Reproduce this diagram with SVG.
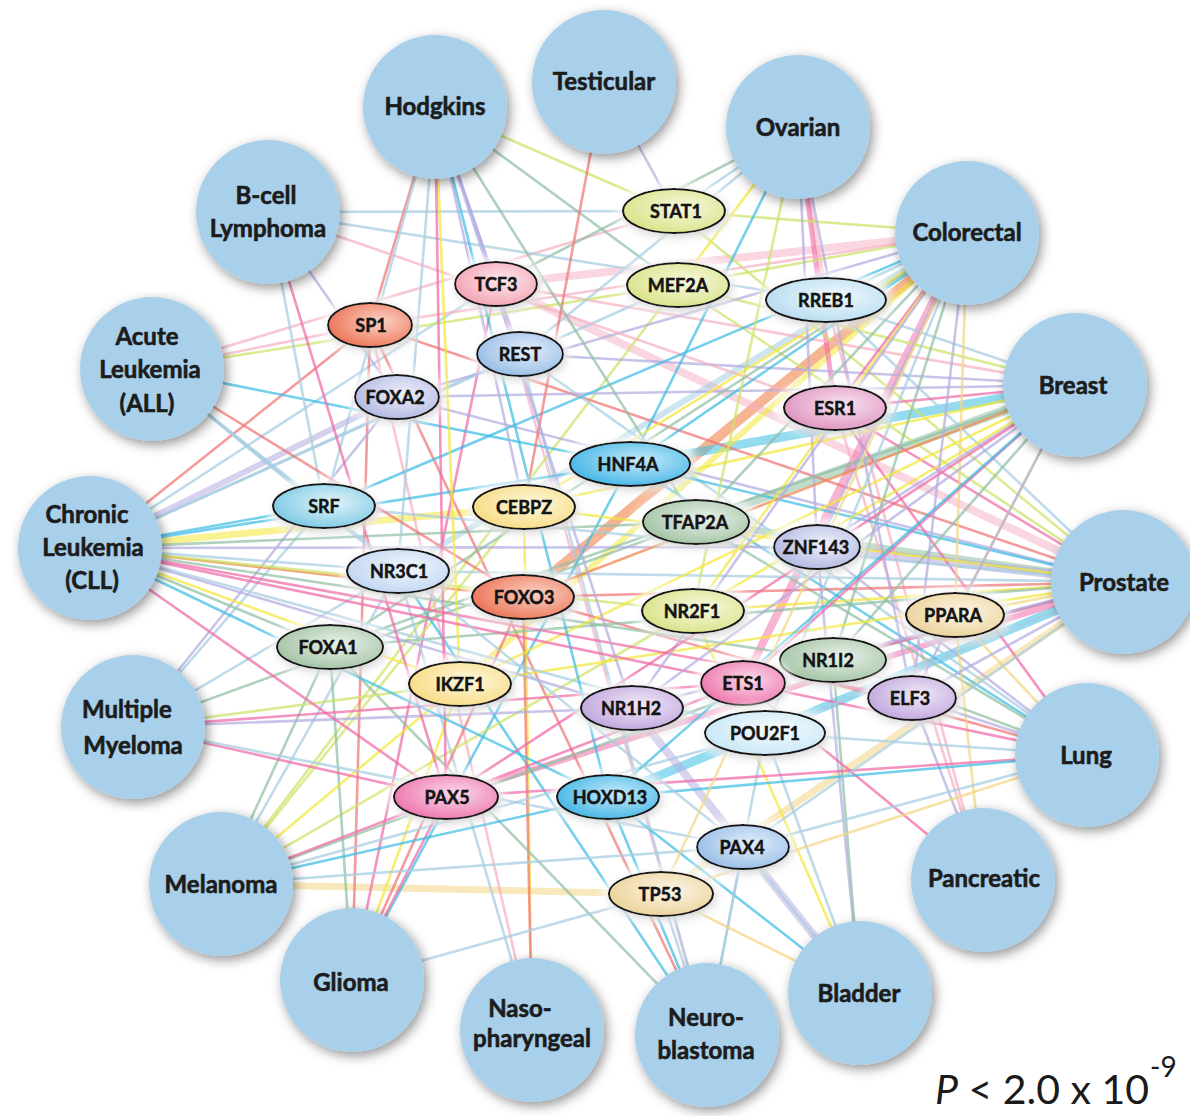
<svg xmlns="http://www.w3.org/2000/svg" width="1190" height="1116" viewBox="0 0 1190 1116">
<defs>
<style>
.cn line{stroke-width:2.6;stroke-linecap:round;stroke-opacity:0.72;fill:none}
.pk{stroke:#f06aa8}.rd{stroke:#f07474}.ye{stroke:#f2e83a}.yg{stroke:#cde36a}.cy{stroke:#3dbde3}
.lb{stroke:#a6cde0}.lv{stroke:#b3ace0}.sg{stroke:#90bfa3}.or{stroke:#f0834a}.lp{stroke:#f6b0c2}.tn{stroke:#f3d684}
.cn line.w5{stroke-width:5;stroke-opacity:0.6}.cn line.w6{stroke-width:6;stroke-opacity:0.55}.cn line.w7{stroke-width:7;stroke-opacity:0.55}
.cn line.w8{stroke-width:8;stroke-opacity:0.5}.cn line.w9{stroke-width:9;stroke-opacity:0.55}.cn line.w10{stroke-width:10;stroke-opacity:0.6}
.can circle{fill:#a8d0ea;filter:url(#csh)}
.can text{font-family:Lato,"Open Sans","Liberation Sans",sans-serif;font-weight:bold;font-size:24px;fill:#1c1c1c;stroke:#1c1c1c;stroke-width:0.6;text-anchor:middle}
.tf ellipse{stroke:#161616;stroke-width:2;filter:url(#tsh)}
.tf text{font-family:Lato,"Open Sans","Liberation Sans",sans-serif;font-weight:bold;font-size:18px;fill:#141414;stroke:#141414;stroke-width:0.5;text-anchor:middle}
</style>
<filter id="csh" x="-30%" y="-30%" width="160%" height="160%">
<feGaussianBlur in="SourceAlpha" stdDeviation="6" result="b"/>
<feOffset in="b" dx="3" dy="4" result="o"/>
<feFlood flood-color="#000" flood-opacity="0.42"/>
<feComposite in2="o" operator="in" result="s"/>
<feMerge><feMergeNode in="s"/><feMergeNode in="SourceGraphic"/></feMerge>
</filter>
<filter id="tsh" x="-40%" y="-80%" width="180%" height="260%">
<feMorphology in="SourceAlpha" operator="dilate" radius="5" result="d"/>
<feGaussianBlur in="d" stdDeviation="4" result="db"/>
<feFlood flood-color="#fff" flood-opacity="0.85"/>
<feComposite in2="db" operator="in" result="halo"/>
<feGaussianBlur in="SourceAlpha" stdDeviation="5" result="b"/>
<feOffset in="b" dx="2" dy="3" result="o"/>
<feFlood flood-color="#000" flood-opacity="0.35"/>
<feComposite in2="o" operator="in" result="s"/>
<feMerge><feMergeNode in="halo"/><feMergeNode in="s"/><feMergeNode in="SourceGraphic"/></feMerge>
</filter>
<radialGradient id="gYG" cx="0.58" cy="0.42" r="0.62"><stop offset="0" stop-color="#f7f9de"/><stop offset="1" stop-color="#d9e288"/></radialGradient>
<radialGradient id="gTC" cx="0.58" cy="0.42" r="0.62"><stop offset="0" stop-color="#fde8ec"/><stop offset="1" stop-color="#f2a3b4"/></radialGradient>
<radialGradient id="gRR" cx="0.58" cy="0.42" r="0.62"><stop offset="0" stop-color="#f0f9fd"/><stop offset="1" stop-color="#b8dcf0"/></radialGradient>
<radialGradient id="gSA" cx="0.62" cy="0.42" r="0.65"><stop offset="0" stop-color="#fbd2c4"/><stop offset="1" stop-color="#ec7356"/></radialGradient>
<radialGradient id="gBL" cx="0.58" cy="0.42" r="0.62"><stop offset="0" stop-color="#e4eefa"/><stop offset="1" stop-color="#98bde6"/></radialGradient>
<radialGradient id="gLA" cx="0.58" cy="0.42" r="0.62"><stop offset="0" stop-color="#eef0fa"/><stop offset="1" stop-color="#b2b8e3"/></radialGradient>
<radialGradient id="gMA" cx="0.58" cy="0.42" r="0.62"><stop offset="0" stop-color="#f8e4ef"/><stop offset="1" stop-color="#df94c1"/></radialGradient>
<radialGradient id="gCY" cx="0.58" cy="0.42" r="0.62"><stop offset="0" stop-color="#c6eaf9"/><stop offset="1" stop-color="#45b6e6"/></radialGradient>
<radialGradient id="gLC" cx="0.58" cy="0.42" r="0.62"><stop offset="0" stop-color="#e2f4fa"/><stop offset="1" stop-color="#7cc9e4"/></radialGradient>
<radialGradient id="gYL" cx="0.58" cy="0.42" r="0.62"><stop offset="0" stop-color="#fef7dc"/><stop offset="1" stop-color="#f7dc84"/></radialGradient>
<radialGradient id="gSG" cx="0.58" cy="0.42" r="0.62"><stop offset="0" stop-color="#eaf2ea"/><stop offset="1" stop-color="#a2c3a3"/></radialGradient>
<radialGradient id="gPB" cx="0.58" cy="0.42" r="0.62"><stop offset="0" stop-color="#f2f6fd"/><stop offset="1" stop-color="#c0d6f1"/></radialGradient>
<radialGradient id="gBE" cx="0.58" cy="0.42" r="0.62"><stop offset="0" stop-color="#fcf5e6"/><stop offset="1" stop-color="#ebd29a"/></radialGradient>
<radialGradient id="gPH" cx="0.58" cy="0.42" r="0.62"><stop offset="0" stop-color="#fbdaea"/><stop offset="1" stop-color="#ed76ad"/></radialGradient>
<radialGradient id="gPU" cx="0.58" cy="0.42" r="0.62"><stop offset="0" stop-color="#f1e9f8"/><stop offset="1" stop-color="#c0a6dd"/></radialGradient>
<radialGradient id="gVL" cx="0.58" cy="0.42" r="0.62"><stop offset="0" stop-color="#f6fcfe"/><stop offset="1" stop-color="#c8e6f6"/></radialGradient>
</defs>
<rect width="1190" height="1116" fill="#fff"/>

<g id="connectors" class="cn">
<line x1="523" y1="597" x2="967" y2="233" class="or w10"/>
<line x1="496" y1="284" x2="967" y2="233" class="lp w8"/>
<line x1="496" y1="284" x2="1124" y2="582" class="lp w8"/>
<line x1="630" y1="464" x2="1075" y2="385" class="cy w9"/>
<line x1="696" y1="522" x2="1075" y2="385" class="sg w9"/>
<line x1="696" y1="522" x2="1124" y2="582" class="sg w7"/>
<line x1="817" y1="547" x2="1124" y2="582" class="lv w9"/>
<line x1="608" y1="797" x2="1124" y2="582" class="cy w9"/>
<line x1="632" y1="708" x2="860" y2="993" class="lv w8"/>
<line x1="743" y1="683" x2="967" y2="233" class="pk w8"/>
<line x1="524" y1="507" x2="90" y2="548" class="ye w7"/>
<line x1="661" y1="894" x2="221" y2="884" class="tn w7"/>
<line x1="661" y1="894" x2="1124" y2="582" class="tn w7"/>
<line x1="446" y1="797" x2="1124" y2="582" class="pk w6"/>
<line x1="460" y1="684" x2="967" y2="233" class="ye w6"/>
<line x1="397" y1="397" x2="90" y2="548" class="lv w6"/>
<line x1="398" y1="571" x2="967" y2="233" class="lb w6"/>
<line x1="826" y1="300" x2="798" y2="127" class="lp w5"/>
<line x1="835" y1="408" x2="798" y2="127" class="pk w5"/>

<line x1="674" y1="211" x2="967" y2="233" class="yg"/>
<line x1="674" y1="211" x2="435" y2="107" class="yg"/>
<line x1="674" y1="211" x2="798" y2="127" class="lb"/>
<line x1="674" y1="211" x2="604" y2="82" class="lv"/>
<line x1="674" y1="211" x2="268" y2="212" class="lb"/>
<line x1="674" y1="211" x2="1124" y2="582" class="yg"/>
<line x1="674" y1="211" x2="152" y2="369" class="lp"/>
<line x1="496" y1="284" x2="435" y2="107" class="lv"/>
<line x1="496" y1="284" x2="798" y2="127" class="sg"/>
<line x1="496" y1="284" x2="90" y2="548" class="lb"/>
<line x1="496" y1="284" x2="707" y2="1035" class="lp"/>
<line x1="496" y1="284" x2="352" y2="980" class="pk"/>
<line x1="496" y1="284" x2="1075" y2="385" class="lp"/>
<line x1="678" y1="285" x2="798" y2="127" class="ye"/>
<line x1="678" y1="285" x2="967" y2="233" class="yg"/>
<line x1="678" y1="285" x2="152" y2="369" class="yg"/>
<line x1="678" y1="285" x2="1124" y2="582" class="yg"/>
<line x1="678" y1="285" x2="1075" y2="385" class="yg"/>
<line x1="678" y1="285" x2="435" y2="107" class="sg"/>
<line x1="678" y1="285" x2="221" y2="884" class="yg"/>
<line x1="678" y1="285" x2="90" y2="548" class="lb"/>
<line x1="826" y1="300" x2="967" y2="233" class="lb"/>
<line x1="826" y1="300" x2="1075" y2="385" class="lb"/>
<line x1="826" y1="300" x2="268" y2="212" class="lb"/>
<line x1="826" y1="300" x2="1124" y2="582" class="lb"/>
<line x1="826" y1="300" x2="983" y2="880" class="lp"/>
<line x1="370" y1="325" x2="435" y2="107" class="rd"/>
<line x1="370" y1="325" x2="90" y2="548" class="rd"/>
<line x1="370" y1="325" x2="152" y2="369" class="lp"/>
<line x1="370" y1="325" x2="1124" y2="582" class="rd"/>
<line x1="370" y1="325" x2="352" y2="980" class="rd"/>
<line x1="370" y1="325" x2="967" y2="233" class="lp"/>
<line x1="370" y1="325" x2="707" y2="1035" class="rd"/>
<line x1="370" y1="325" x2="532" y2="1030" class="lp"/>
<line x1="520" y1="354" x2="435" y2="107" class="lv"/>
<line x1="520" y1="354" x2="798" y2="127" class="lb"/>
<line x1="520" y1="354" x2="1075" y2="385" class="lv"/>
<line x1="520" y1="354" x2="90" y2="548" class="lb"/>
<line x1="520" y1="354" x2="1087" y2="755" class="lb"/>
<line x1="520" y1="354" x2="707" y2="1035" class="lb"/>
<line x1="397" y1="397" x2="967" y2="233" class="lv"/>
<line x1="397" y1="397" x2="1124" y2="582" class="lv"/>
<line x1="397" y1="397" x2="1075" y2="385" class="lv"/>
<line x1="397" y1="397" x2="133" y2="727" class="lv"/>
<line x1="397" y1="397" x2="268" y2="212" class="lv"/>
<line x1="835" y1="408" x2="967" y2="233" class="pk"/>
<line x1="835" y1="408" x2="1075" y2="385" class="pk"/>
<line x1="835" y1="408" x2="1124" y2="582" class="pk"/>
<line x1="835" y1="408" x2="1087" y2="755" class="pk"/>
<line x1="835" y1="408" x2="983" y2="880" class="lp"/>
<line x1="835" y1="408" x2="268" y2="212" class="lp"/>
<line x1="630" y1="464" x2="967" y2="233" class="cy"/>
<line x1="630" y1="464" x2="798" y2="127" class="cy"/>
<line x1="630" y1="464" x2="90" y2="548" class="cy"/>
<line x1="630" y1="464" x2="1124" y2="582" class="cy"/>
<line x1="630" y1="464" x2="152" y2="369" class="cy"/>
<line x1="630" y1="464" x2="352" y2="980" class="cy"/>
<line x1="630" y1="464" x2="1087" y2="755" class="cy"/>
<line x1="324" y1="506" x2="90" y2="548" class="cy"/>
<line x1="324" y1="506" x2="435" y2="107" class="lb"/>
<line x1="324" y1="506" x2="967" y2="233" class="cy"/>
<line x1="324" y1="506" x2="1124" y2="582" class="lb"/>
<line x1="324" y1="506" x2="152" y2="369" class="lb"/>
<line x1="324" y1="506" x2="268" y2="212" class="lb"/>
<line x1="324" y1="506" x2="133" y2="727" class="lb"/>
<line x1="524" y1="507" x2="604" y2="82" class="rd"/>
<line x1="524" y1="507" x2="967" y2="233" class="ye"/>
<line x1="524" y1="507" x2="1124" y2="582" class="ye"/>
<line x1="524" y1="507" x2="532" y2="1030" class="ye"/>
<line x1="524" y1="507" x2="221" y2="884" class="yg"/>
<line x1="524" y1="507" x2="435" y2="107" class="lv"/>
<line x1="524" y1="507" x2="1075" y2="385" class="ye"/>
<line x1="696" y1="522" x2="967" y2="233" class="sg"/>
<line x1="696" y1="522" x2="90" y2="548" class="sg"/>
<line x1="696" y1="522" x2="435" y2="107" class="sg"/>
<line x1="696" y1="522" x2="1087" y2="755" class="sg"/>
<line x1="696" y1="522" x2="133" y2="727" class="sg"/>
<line x1="817" y1="547" x2="967" y2="233" class="lv"/>
<line x1="817" y1="547" x2="1075" y2="385" class="lv"/>
<line x1="817" y1="547" x2="798" y2="127" class="lv"/>
<line x1="817" y1="547" x2="90" y2="548" class="lv"/>
<line x1="817" y1="547" x2="860" y2="993" class="lv"/>
<line x1="817" y1="547" x2="1087" y2="755" class="lv"/>
<line x1="398" y1="571" x2="90" y2="548" class="lb"/>
<line x1="398" y1="571" x2="152" y2="369" class="lb"/>
<line x1="398" y1="571" x2="1124" y2="582" class="lb"/>
<line x1="398" y1="571" x2="435" y2="107" class="lb"/>
<line x1="398" y1="571" x2="532" y2="1030" class="lb"/>
<line x1="398" y1="571" x2="707" y2="1035" class="cy"/>
<line x1="398" y1="571" x2="133" y2="727" class="lb"/>
<line x1="398" y1="571" x2="221" y2="884" class="lb"/>
<line x1="523" y1="597" x2="532" y2="1030" class="rd"/>
<line x1="523" y1="597" x2="90" y2="548" class="or"/>
<line x1="523" y1="597" x2="1124" y2="582" class="rd"/>
<line x1="523" y1="597" x2="1075" y2="385" class="or"/>
<line x1="523" y1="597" x2="152" y2="369" class="rd"/>
<line x1="523" y1="597" x2="352" y2="980" class="rd"/>
<line x1="523" y1="597" x2="1087" y2="755" class="rd"/>
<line x1="693" y1="611" x2="1124" y2="582" class="ye"/>
<line x1="693" y1="611" x2="967" y2="233" class="ye"/>
<line x1="693" y1="611" x2="90" y2="548" class="yg"/>
<line x1="693" y1="611" x2="798" y2="127" class="yg"/>
<line x1="693" y1="611" x2="860" y2="993" class="ye"/>
<line x1="693" y1="611" x2="221" y2="884" class="yg"/>
<line x1="693" y1="611" x2="1075" y2="385" class="ye"/>
<line x1="955" y1="615" x2="1124" y2="582" class="tn"/>
<line x1="955" y1="615" x2="967" y2="233" class="tn"/>
<line x1="955" y1="615" x2="1075" y2="385" class="tn"/>
<line x1="955" y1="615" x2="1087" y2="755" class="tn"/>
<line x1="955" y1="615" x2="983" y2="880" class="tn"/>
<line x1="330" y1="647" x2="90" y2="548" class="sg"/>
<line x1="330" y1="647" x2="1075" y2="385" class="sg"/>
<line x1="330" y1="647" x2="1124" y2="582" class="sg"/>
<line x1="330" y1="647" x2="221" y2="884" class="sg"/>
<line x1="330" y1="647" x2="352" y2="980" class="sg"/>
<line x1="330" y1="647" x2="967" y2="233" class="sg"/>
<line x1="330" y1="647" x2="707" y2="1035" class="sg"/>
<line x1="833" y1="660" x2="1124" y2="582" class="sg"/>
<line x1="833" y1="660" x2="967" y2="233" class="sg"/>
<line x1="833" y1="660" x2="1075" y2="385" class="sg"/>
<line x1="833" y1="660" x2="1087" y2="755" class="sg"/>
<line x1="833" y1="660" x2="860" y2="993" class="sg"/>
<line x1="833" y1="660" x2="90" y2="548" class="sg"/>
<line x1="833" y1="660" x2="221" y2="884" class="sg"/>
<line x1="460" y1="684" x2="435" y2="107" class="ye"/>
<line x1="460" y1="684" x2="90" y2="548" class="ye"/>
<line x1="460" y1="684" x2="133" y2="727" class="yg"/>
<line x1="460" y1="684" x2="352" y2="980" class="ye"/>
<line x1="460" y1="684" x2="221" y2="884" class="ye"/>
<line x1="460" y1="684" x2="1124" y2="582" class="ye"/>
<line x1="460" y1="684" x2="1075" y2="385" class="ye"/>
<line x1="743" y1="683" x2="1124" y2="582" class="pk"/>
<line x1="743" y1="683" x2="1075" y2="385" class="pk"/>
<line x1="743" y1="683" x2="90" y2="548" class="pk"/>
<line x1="743" y1="683" x2="1087" y2="755" class="pk"/>
<line x1="743" y1="683" x2="221" y2="884" class="pk"/>
<line x1="743" y1="683" x2="983" y2="880" class="pk"/>
<line x1="743" y1="683" x2="133" y2="727" class="pk"/>
<line x1="912" y1="698" x2="1124" y2="582" class="lv"/>
<line x1="912" y1="698" x2="967" y2="233" class="lv"/>
<line x1="912" y1="698" x2="1075" y2="385" class="lv"/>
<line x1="912" y1="698" x2="798" y2="127" class="lv"/>
<line x1="912" y1="698" x2="983" y2="880" class="lv"/>
<line x1="912" y1="698" x2="1087" y2="755" class="lv"/>
<line x1="912" y1="698" x2="90" y2="548" class="pk"/>
<line x1="632" y1="708" x2="90" y2="548" class="lv"/>
<line x1="632" y1="708" x2="1124" y2="582" class="lv"/>
<line x1="632" y1="708" x2="967" y2="233" class="lv"/>
<line x1="632" y1="708" x2="133" y2="727" class="lv"/>
<line x1="632" y1="708" x2="435" y2="107" class="lv"/>
<line x1="632" y1="708" x2="1075" y2="385" class="lv"/>
<line x1="765" y1="733" x2="1124" y2="582" class="lb"/>
<line x1="765" y1="733" x2="967" y2="233" class="lb"/>
<line x1="765" y1="733" x2="860" y2="993" class="lb"/>
<line x1="765" y1="733" x2="1087" y2="755" class="lb"/>
<line x1="765" y1="733" x2="221" y2="884" class="lb"/>
<line x1="765" y1="733" x2="90" y2="548" class="lb"/>
<line x1="765" y1="733" x2="707" y2="1035" class="lb"/>
<line x1="446" y1="797" x2="435" y2="107" class="pk"/>
<line x1="446" y1="797" x2="90" y2="548" class="pk"/>
<line x1="446" y1="797" x2="1087" y2="755" class="pk"/>
<line x1="446" y1="797" x2="133" y2="727" class="pk"/>
<line x1="446" y1="797" x2="352" y2="980" class="pk"/>
<line x1="446" y1="797" x2="268" y2="212" class="pk"/>
<line x1="446" y1="797" x2="1075" y2="385" class="pk"/>
<line x1="608" y1="797" x2="1087" y2="755" class="cy"/>
<line x1="608" y1="797" x2="707" y2="1035" class="cy"/>
<line x1="608" y1="797" x2="90" y2="548" class="cy"/>
<line x1="608" y1="797" x2="221" y2="884" class="cy"/>
<line x1="608" y1="797" x2="435" y2="107" class="cy"/>
<line x1="608" y1="797" x2="860" y2="993" class="cy"/>
<line x1="608" y1="797" x2="1075" y2="385" class="cy"/>
<line x1="743" y1="847" x2="1087" y2="755" class="lb"/>
<line x1="743" y1="847" x2="221" y2="884" class="lb"/>
<line x1="743" y1="847" x2="707" y2="1035" class="lb"/>
<line x1="743" y1="847" x2="1124" y2="582" class="lb"/>
<line x1="743" y1="847" x2="860" y2="993" class="lb"/>
<line x1="743" y1="847" x2="133" y2="727" class="lb"/>
<line x1="743" y1="847" x2="152" y2="369" class="lb"/>
<line x1="661" y1="894" x2="707" y2="1035" class="lb"/>
<line x1="661" y1="894" x2="860" y2="993" class="tn"/>
<line x1="661" y1="894" x2="1087" y2="755" class="tn"/>
<line x1="661" y1="894" x2="352" y2="980" class="lb"/>
<line x1="661" y1="894" x2="967" y2="233" class="tn"/>
</g>

<g class="can">
<g id="hodgkins"><circle cx="435" cy="107" r="72"/><text x="435" y="115">Hodgkins</text></g>
<g id="testicular"><circle cx="604" cy="82" r="72"/><text x="604" y="90" font-size="23">Testicular</text></g>
<g id="ovarian"><circle cx="798" cy="127" r="72"/><text x="798" y="136" font-size="25">Ovarian</text></g>
<g id="colorectal"><circle cx="967" cy="233" r="72"/><text x="967" y="241" font-size="22">Colorectal</text></g>
<g id="breast"><circle cx="1075" cy="385" r="72"/><text x="1073" y="394" font-size="25">Breast</text></g>
<g id="prostate"><circle cx="1123" cy="582" r="72"/><text x="1124" y="591" font-size="25">Prostate</text></g>
<g id="lung"><circle cx="1087" cy="755" r="72"/><text x="1086" y="764" font-size="25">Lung</text></g>
<g id="pancreatic"><circle cx="983" cy="880" r="72"/><text x="984" y="887" font-size="22">Pancreatic</text></g>
<g id="bladder"><circle cx="860" cy="993" r="72"/><text x="859" y="1002" font-size="25">Bladder</text></g>
<g id="neuroblastoma"><circle cx="707" cy="1035" r="72"/><text x="706" y="1026" font-size="24">Neuro-</text><text x="706" y="1059" font-size="24">blastoma</text></g>
<g id="nasopharyngeal"><circle cx="532" cy="1030" r="72"/><text x="520" y="1017" font-size="20">Naso-</text><text x="532" y="1047" font-size="20">pharyngeal</text></g>
<g id="glioma"><circle cx="352" cy="980" r="72"/><text x="351" y="991" font-size="25">Glioma</text></g>
<g id="melanoma"><circle cx="221" cy="884" r="72"/><text x="221" y="893" font-size="25">Melanoma</text></g>
<g id="multiple-myeloma"><circle cx="133" cy="727" r="72"/><text x="127" y="718" font-size="25">Multiple</text><text x="133" y="754" font-size="25">Myeloma</text></g>
<g id="cll"><circle cx="90" cy="548" r="72"/><text x="87" y="523">Chronic</text><text x="93" y="556">Leukemia</text><text x="92" y="589">(CLL)</text></g>
<g id="all"><circle cx="152" cy="369" r="72"/><text x="147" y="345">Acute</text><text x="150" y="378">Leukemia</text><text x="147" y="412">(ALL)</text></g>
<g id="bcell-lymphoma"><circle cx="268" cy="212" r="72"/><text x="266" y="204">B-cell</text><text x="268" y="237">Lymphoma</text></g>
</g>

<g class="tf">
<g id="STAT1"><ellipse cx="674" cy="211" rx="51" ry="22" fill="url(#gYG)"/><text x="676" y="218">STAT1</text></g>
<g id="TCF3"><ellipse cx="496" cy="284" rx="41" ry="22" fill="url(#gTC)"/><text x="496" y="291">TCF3</text></g>
<g id="MEF2A"><ellipse cx="678" cy="285" rx="51" ry="22" fill="url(#gYG)"/><text x="678" y="292">MEF2A</text></g>
<g id="RREB1"><ellipse cx="826" cy="300" rx="60" ry="22" fill="url(#gRR)"/><text x="826" y="307">RREB1</text></g>
<g id="SP1"><ellipse cx="370" cy="325" rx="42" ry="22" fill="url(#gSA)"/><text x="371" y="332">SP1</text></g>
<g id="REST"><ellipse cx="520" cy="354" rx="43" ry="22" fill="url(#gBL)"/><text x="520" y="361">REST</text></g>
<g id="FOXA2"><ellipse cx="397" cy="397" rx="42" ry="22" fill="url(#gLA)"/><text x="395" y="404">FOXA2</text></g>
<g id="ESR1"><ellipse cx="835" cy="408" rx="51" ry="22" fill="url(#gMA)"/><text x="835" y="415">ESR1</text></g>
<g id="HNF4A"><ellipse cx="630" cy="464" rx="60" ry="22" fill="url(#gCY)"/><text x="628" y="471">HNF4A</text></g>
<g id="SRF"><ellipse cx="324" cy="506" rx="51" ry="22" fill="url(#gLC)"/><text x="324" y="513">SRF</text></g>
<g id="CEBPZ"><ellipse cx="524" cy="507" rx="51" ry="22" fill="url(#gYL)"/><text x="524" y="514">CEBPZ</text></g>
<g id="TFAP2A"><ellipse cx="696" cy="522" rx="53" ry="22" fill="url(#gSG)"/><text x="695" y="529">TFAP2A</text></g>
<g id="ZNF143"><ellipse cx="817" cy="547" rx="43" ry="22" fill="url(#gLA)"/><text x="816" y="554">ZNF143</text></g>
<g id="NR3C1"><ellipse cx="398" cy="571" rx="51" ry="22" fill="url(#gPB)"/><text x="399" y="578">NR3C1</text></g>
<g id="FOXO3"><ellipse cx="523" cy="597" rx="51" ry="22" fill="url(#gSA)"/><text x="524" y="604">FOXO3</text></g>
<g id="NR2F1"><ellipse cx="693" cy="611" rx="51" ry="22" fill="url(#gYG)"/><text x="692" y="618">NR2F1</text></g>
<g id="PPARA"><ellipse cx="955" cy="615" rx="49" ry="22" fill="url(#gBE)"/><text x="953" y="622">PPARA</text></g>
<g id="FOXA1"><ellipse cx="330" cy="647" rx="53" ry="22" fill="url(#gSG)"/><text x="328" y="654">FOXA1</text></g>
<g id="NR1I2"><ellipse cx="833" cy="660" rx="53" ry="22" fill="url(#gSG)"/><text x="828" y="667">NR1I2</text></g>
<g id="IKZF1"><ellipse cx="460" cy="684" rx="51" ry="22" fill="url(#gYL)"/><text x="460" y="691">IKZF1</text></g>
<g id="ETS1"><ellipse cx="743" cy="683" rx="42" ry="22" fill="url(#gPH)"/><text x="743" y="690">ETS1</text></g>
<g id="ELF3"><ellipse cx="912" cy="698" rx="44" ry="22" fill="url(#gPU)"/><text x="910" y="705">ELF3</text></g>
<g id="NR1H2"><ellipse cx="632" cy="708" rx="51" ry="22" fill="url(#gPU)"/><text x="631" y="715">NR1H2</text></g>
<g id="POU2F1"><ellipse cx="765" cy="733" rx="60" ry="22" fill="url(#gVL)"/><text x="765" y="740">POU2F1</text></g>
<g id="PAX5"><ellipse cx="446" cy="797" rx="52" ry="22" fill="url(#gPH)"/><text x="447" y="804">PAX5</text></g>
<g id="HOXD13"><ellipse cx="608" cy="797" rx="51" ry="22" fill="url(#gCY)"/><text x="610" y="804">HOXD13</text></g>
<g id="PAX4"><ellipse cx="743" cy="847" rx="46" ry="22" fill="url(#gBL)"/><text x="742" y="854">PAX4</text></g>
<g id="TP53"><ellipse cx="661" cy="894" rx="52" ry="22" fill="url(#gBE)"/><text x="660" y="901">TP53</text></g>
</g>

<text x="935" y="1104" font-family="Lato,'Open Sans','Liberation Sans',sans-serif" font-size="41" fill="#1a1a1a"><tspan font-style="italic">P</tspan> &lt; 2.0 x 10</text>
<text x="1150" y="1077" font-family="Lato,'Open Sans','Liberation Sans',sans-serif" font-size="28" fill="#1a1a1a">-9</text>
</svg>
